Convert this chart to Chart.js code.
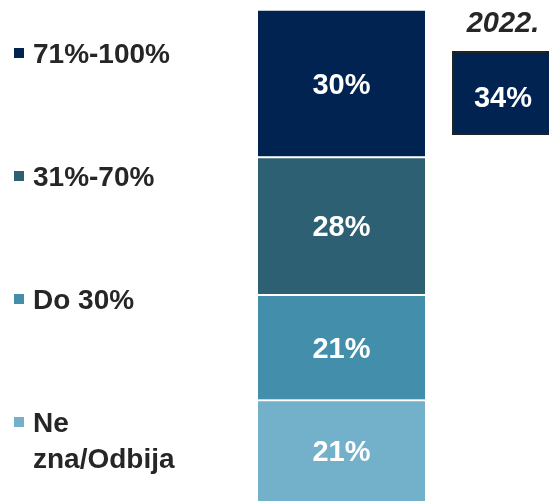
<!DOCTYPE html>
<html>
<head>
<meta charset="utf-8">
<script src="https://cdn.jsdelivr.net/npm/chart.js@4"></script>
<style>
  html, body { margin: 0; padding: 0; background: #fff; }
  #wrap { width: 549px; height: 502px; position: relative; }
</style>
</head>
<body>
<div id="wrap"><canvas id="shareChart"></canvas></div>
<script>
  // stacked from the bottom up
  const categories = ['2024'];
  const seriesLabels = [['Ne', 'zna/Odbija'], ['Do 30%'], ['31%-70%'], ['71%-100%']];
  const seriesValues = [20.6, 21.4, 28, 30];
  const seriesColors = ['#72b1c9', '#438fab', '#2d6072', '#002352'];
  const prevYear = '2022.';
  const prevValue = 34;

  const FONT = '"Liberation Sans", Arial, sans-serif';
  const TEXT = '#262626';

  // white value text in the middle of each segment
  const valueLabels = {
    id: 'valueLabels',
    afterDatasetsDraw(chart) {
      const ctx = chart.ctx;
      ctx.save();
      ctx.fillStyle = '#fff';
      ctx.font = 'bold 29px ' + FONT;
      ctx.textAlign = 'center';
      ctx.textBaseline = 'middle';
      chart.data.datasets.forEach((ds, i) => {
        const bar = chart.getDatasetMeta(i).data[0];
        const v = ds.data[0];
        ctx.fillText(Math.round(v) + '%', bar.x, (bar.y + bar.base) / 2 + 3);
      });
      ctx.restore();
    }
  };

  // legend on the left, top item = top segment
  const sideLegend = {
    id: 'sideLegend',
    afterDraw(chart) {
      const ctx = chart.ctx;
      const sets = chart.data.datasets.slice().reverse();
      ctx.save();
      ctx.font = 'bold 28px ' + FONT;
      ctx.textBaseline = 'alphabetic';
      ctx.textAlign = 'left';
      sets.forEach((ds, i) => {
        const base = 63 + i * 123;
        ctx.fillStyle = ds.backgroundColor;
        ctx.fillRect(14, base - 15, 10, 10);
        ctx.fillStyle = TEXT;
        ds.label.forEach((line, j) => ctx.fillText(line, 33, base + j * 36));
      });
      ctx.restore();
    }
  };

  // comparison box for previous wave
  const prevBox = {
    id: 'prevBox',
    afterDraw(chart) {
      const ctx = chart.ctx;
      const left = chart.chartArea.right + 28;
      const w = 100, top = 52, h = 82;
      ctx.save();
      ctx.fillStyle = seriesColors[3];
      ctx.fillRect(left, top, w, h);
      ctx.strokeStyle = '#222';
      ctx.lineWidth = 2;
      ctx.strokeRect(left, top, w, h);
      ctx.textAlign = 'center';
      ctx.fillStyle = '#fff';
      ctx.font = 'bold 29px ' + FONT;
      ctx.textBaseline = 'alphabetic';
      ctx.fillText(prevValue + '%', left + w / 2, 107);
      ctx.fillStyle = TEXT;
      ctx.font = 'italic bold 29px ' + FONT;
      ctx.fillText(prevYear, left + w / 2, 32);
      ctx.restore();
    }
  };

  new Chart(document.getElementById('shareChart'), {
    type: 'bar',
    data: {
      labels: categories,
      datasets: seriesLabels.map((label, i) => ({
        label,
        data: [seriesValues[i]],
        backgroundColor: seriesColors[i],
        borderColor: '#fff',
        borderWidth: { top: 2, left: 0, right: 0, bottom: 0 },
        borderSkipped: false,
        barPercentage: 1,
        categoryPercentage: 1
      }))
    },
    options: {
      responsive: true,
      maintainAspectRatio: false,
      animation: false,
      layout: { padding: { left: 258, right: 124, top: 9, bottom: 1 } },
      plugins: { legend: { display: false }, tooltip: { enabled: false } },
      scales: {
        x: { stacked: true, display: false },
        y: { stacked: true, display: false, min: 0, max: 100 }
      }
    },
    plugins: [valueLabels, sideLegend, prevBox]
  });
</script>
</body>
</html>
